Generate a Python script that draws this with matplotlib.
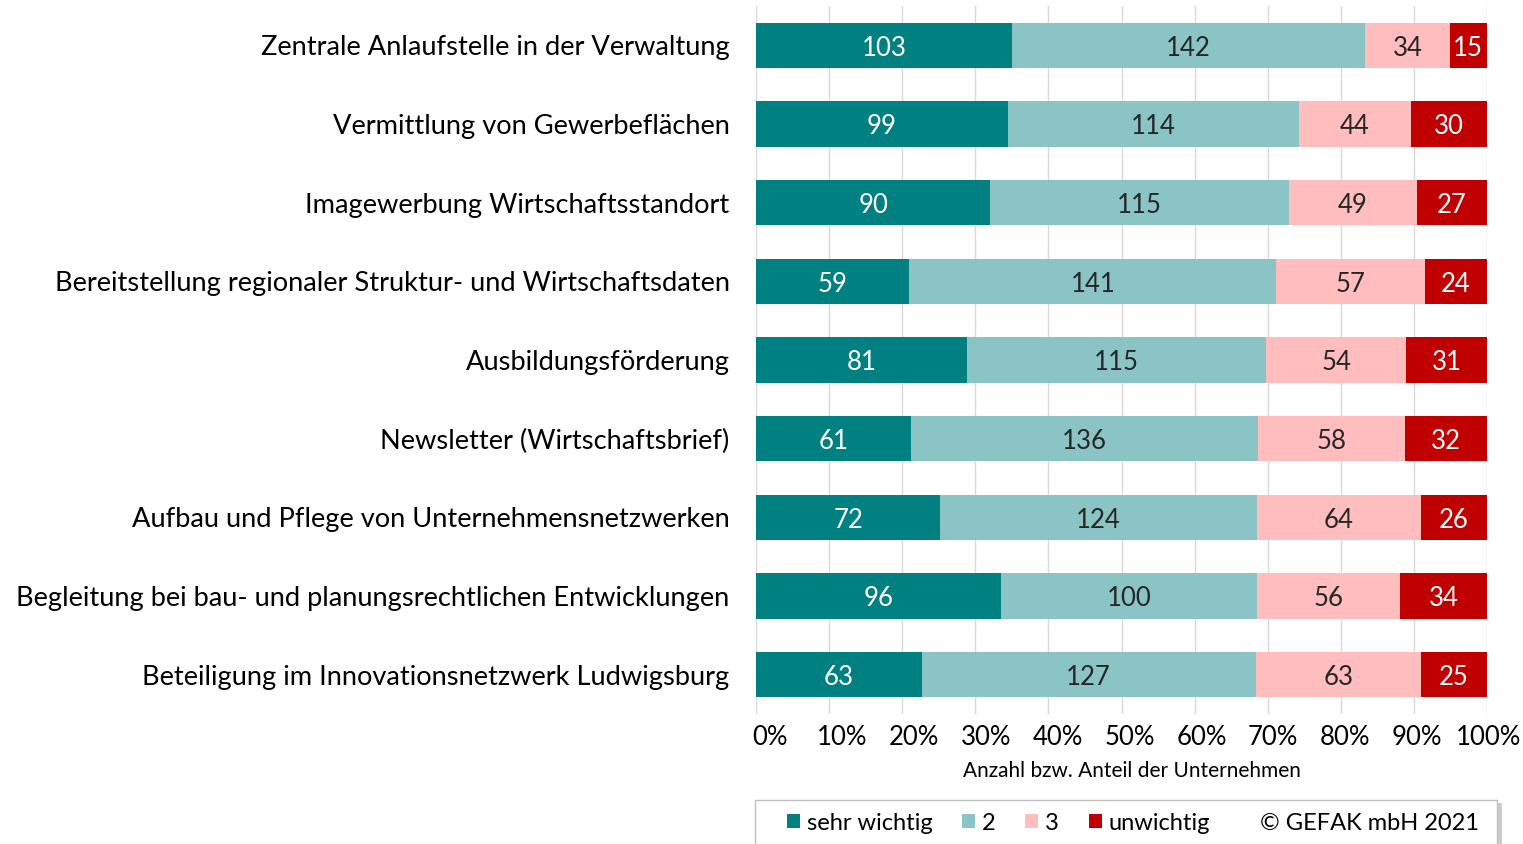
import matplotlib
matplotlib.use("Agg")
import matplotlib.pyplot as plt
import numpy as np
from matplotlib.patches import Patch, Rectangle
from matplotlib.transforms import ScaledTranslation

plt.rcParams['font.family'] = ['Lato', 'DejaVu Sans']

categories = [
    "Zentrale Anlaufstelle in der Verwaltung",
    "Vermittlung von Gewerbeflächen",
    "Imagewerbung Wirtschaftsstandort",
    "Bereitstellung regionaler Struktur- und Wirtschaftsdaten",
    "Ausbildungsförderung",
    "Newsletter (Wirtschaftsbrief)",
    "Aufbau und Pflege von Unternehmensnetzwerken",
    "Begleitung bei bau- und planungsrechtlichen Entwicklungen",
    "Beteiligung im Innovationsnetzwerk Ludwigsburg",
]
sehr_wichtig = [103, 99, 90, 59, 81, 61, 72, 96, 63]
zwei = [142, 114, 115, 141, 115, 136, 124, 100, 127]
drei = [34, 44, 49, 57, 54, 58, 64, 56, 63]
unwichtig = [15, 30, 27, 24, 31, 32, 26, 34, 25]
series_names = ["sehr wichtig", "2", "3", "unwichtig"]
x_ticks = [0, 10, 20, 30, 40, 50, 60, 70, 80, 90, 100]
x_label = "Anzahl bzw. Anteil der Unternehmen"
credit = "© GEFAK mbH 2021"

colors = ["#008080", "#8AC4C4", "#FFBDBD", "#C00000"]
text_colors = ["white", "#262626", "#262626", "white"]

W, H = 1523, 844
fig = plt.figure(figsize=(W / 100, H / 100), dpi=100)
ax = fig.add_axes([756 / W, 1 - 714 / H, (1487 - 756) / W, (714 - 6) / H])

data = np.array([sehr_wichtig, zwei, drei, unwichtig], dtype=float)
totals = data.sum(axis=0)
pct = data / totals * 100
y = np.arange(len(categories))
left = np.zeros(len(categories))
down = ScaledTranslation(0, -3 / 100, fig.dpi_scale_trans)
for k in range(4):
    ax.barh(y, pct[k], left=left, height=0.58, color=colors[k],
            label=series_names[k], zorder=3)
    for i in range(len(categories)):
        ax.text(left[i] + pct[k][i] / 2, y[i], f"{int(data[k][i])}",
                ha="center", va="center", color=text_colors[k],
                fontsize=18.5, zorder=4, transform=ax.transData + down)
    left += pct[k]

ax.set_xlim(0, 100)
ax.set_ylim(len(categories) - 0.5, -0.5)
ax.set_yticks(y)
ax.set_yticklabels(categories, fontsize=19.6, color="#000000")
ax.set_xticks(x_ticks)
ax.set_xticklabels([f"{t}%" for t in x_ticks], fontsize=18.5, color="#000000")
ax.tick_params(axis="y", length=0, pad=19)
ax.tick_params(axis="x", length=0, pad=8)
for i, lab in enumerate(ax.get_xticklabels()):
    dx = (14 - 12 * i / 10) / 100
    lab.set_transform(lab.get_transform() + ScaledTranslation(dx, 0, fig.dpi_scale_trans))
ax.grid(axis="x", color="#D9D9D9", linewidth=1, zorder=0)
for s in ax.spines.values():
    s.set_visible(False)
ax.set_xlabel(x_label, fontsize=15, color="#000000")
ax.xaxis.set_label_coords((1132 - 756) / (1487 - 756), -0.067)

# legend frame with shadow
shadow = Rectangle((760 / W, -0.05), (1497 - 755) / W, 1 - 803 / H + 0.05,
                   transform=fig.transFigure, facecolor="#9a9a9a", edgecolor="none",
                   alpha=0.5, zorder=0)
fig.patches.append(shadow)
frame = Rectangle((755 / W, -0.05), (1497 - 755) / W, 1 - 800 / H + 0.05,
                  transform=fig.transFigure, facecolor="white", edgecolor="#BFBFBF",
                  linewidth=1, zorder=1)
fig.patches.append(frame)

handles = [Patch(facecolor=c, edgecolor="none") for c in colors]
handles.append(Patch(facecolor="none", edgecolor="none"))
labels = series_names + [credit]
leg = fig.legend(handles, labels, loc="center left",
                 bbox_to_anchor=(775 / W, 1 - 823 / H), ncol=5, frameon=False,
                 fontsize=17, handlelength=0.55, handleheight=0.55,
                 handletextpad=0.3, columnspacing=1.25, borderpad=0)
leg.set_zorder(5)

fig.savefig("out.png", dpi=100)
